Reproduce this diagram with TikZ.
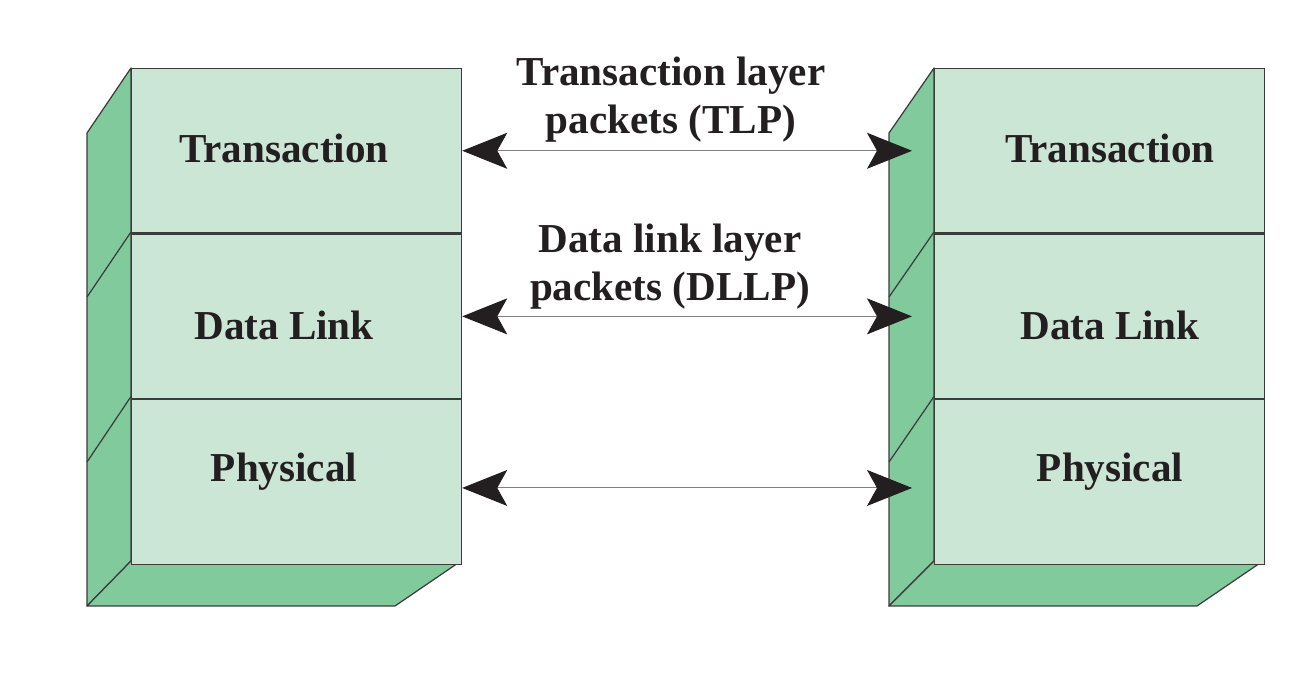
\documentclass[tikz,border=0pt]{standalone}
\usepackage{fontspec}
\setmainfont{Liberation Serif}
\usetikzlibrary{arrows.meta, positioning}
\definecolor{frontgreen}{RGB}{204,230,214}
\definecolor{sidegreen}{RGB}{128,202,156}
\definecolor{edgegray}{RGB}{60,60,60}
\definecolor{inkblack}{RGB}{35,31,32}
\tikzset{layerbox/.style={draw=edgegray, line width=0.7pt, fill=frontgreen,
    minimum width=6.6cm, minimum height=3.287cm, inner sep=0pt, anchor=north west},
  sideface/.style={draw=edgegray, line width=0.7pt, fill=sidegreen, line join=round},
  layername/.style={anchor=base, text=inkblack, font=\fontsize{23.4}{27.3}\selectfont\bfseries},
  pktlabel/.style={align=center, text=inkblack, font=\fontsize{23.4}{27.3}\selectfont\bfseries},
  pktarrow/.style={draw=gray, line width=0.6pt,
    {Stealth[length=0.9cm, width=0.72cm, inset=0.2cm, color=inkblack]}-{Stealth[length=0.9cm, width=0.72cm, inset=0.2cm, color=inkblack]}}
}

\begin{document}
\begin{tikzpicture}
      \useasboundingbox (0,0) rectangle (26.18,13.54);
      % left stack
      \draw[sideface] (1.74,10.88) -- (2.62,12.18) -- (2.62,2.32) -- (1.74,1.42) -- cycle;
      \draw[sideface] (2.62,2.32) -- (9.22,2.32) -- (7.90,1.42) -- (1.74,1.42) -- cycle;
      \draw[edgegray, line width=0.7pt] (2.62,8.90) -- (1.74,7.60);
      \draw[edgegray, line width=0.7pt] (2.62,5.61) -- (1.74,4.30);
      \node[layerbox] (lt) at (2.62,12.18) {};
      \node[layerbox] (ld) at (lt.south west) {};
      \node[layerbox] (lp) at (ld.south west) {};
      \node[layername] (ltn) at (5.68,10.28) {Transaction};
      \node[layername] (ldn) at (5.68,6.74) {Data Link};
      \node[layername] (lpn) at (5.68,3.90) {Physical};
      % right stack
      \draw[sideface] (17.78,10.88) -- (18.68,12.18) -- (18.68,2.32) -- (17.78,1.42) -- cycle;
      \draw[sideface] (18.68,2.32) -- (25.26,2.32) -- (23.94,1.42) -- (17.78,1.42) -- cycle;
      \draw[edgegray, line width=0.7pt] (18.68,8.90) -- (17.78,7.60);
      \draw[edgegray, line width=0.7pt] (18.68,5.61) -- (17.78,4.30);
      \node[layerbox] (rt) at (18.68,12.18) {};
      \node[layerbox] (rd) at (rt.south west) {};
      \node[layerbox] (rp) at (rd.south west) {};
      \node[layername] (rtn) at (22.20,10.28) {Transaction};
      \node[layername] (rdn) at (22.20,6.74) {Data Link};
      \node[layername] (rpn) at (22.20,3.90) {Physical};
      % packets between the layers
      \draw[pktarrow] (lt.east) -- ([xshift=-0.44cm]rt.west);
      \draw[pktarrow] (ld.east) -- ([xshift=-0.44cm]rd.west);
      \draw[pktarrow] ([yshift=-0.12cm]lp.east) -- ([xshift=-0.44cm, yshift=-0.12cm]rp.west);
      \node[pktlabel] (tlp) at (13.42,11.55) {Transaction layer\\packets (TLP)};
      \node[pktlabel] (dllp) at (13.40,8.20) {Data link layer\\packets (DLLP)};
    \end{tikzpicture}
\end{document}
